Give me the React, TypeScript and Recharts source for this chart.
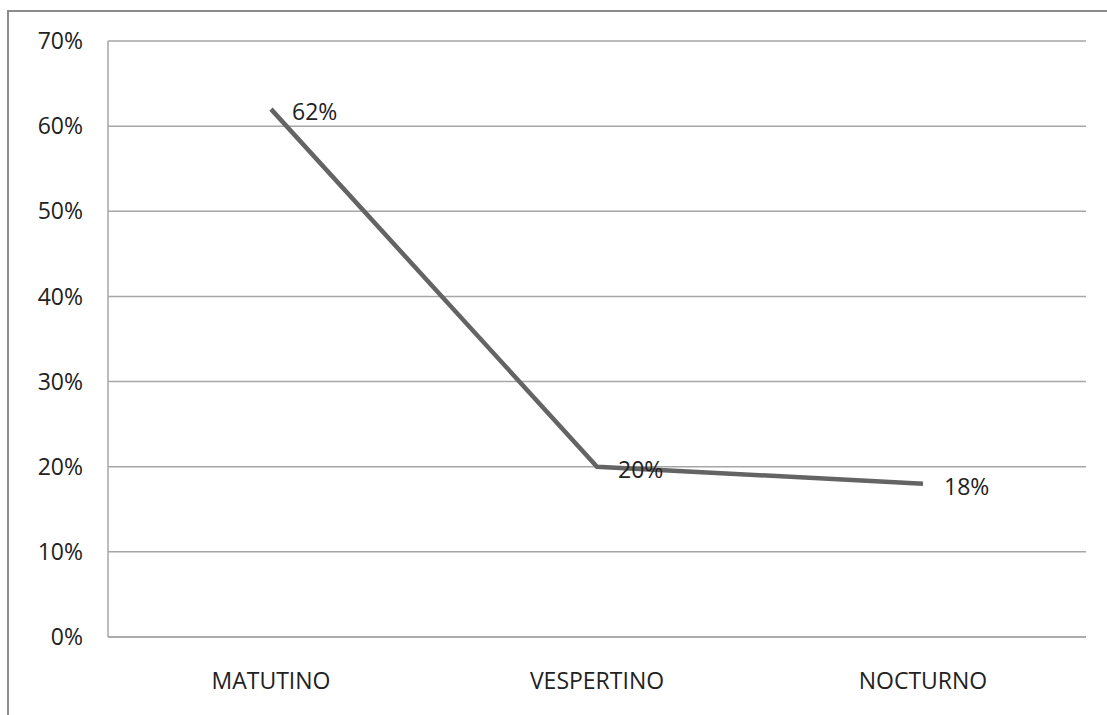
import { LineChart, Line, XAxis, YAxis, CartesianGrid, LabelList } from 'recharts';

const turnos = ['MATUTINO', 'VESPERTINO', 'NOCTURNO'];
const porcentajes = [0.62, 0.2, 0.18];
const yTicks = [0, 0.1, 0.2, 0.3, 0.4, 0.5, 0.6, 0.7];

const data = turnos.map((turno, i) => ({ turno, valor: porcentajes[i] }));

const FONT = '"Open Sans", "Liberation Sans", sans-serif';
const pct = (v: number) => `${Math.round(v * 100)}%`;

// value label sits to the right of each point
const PointLabel = (props: any) => {
  const { x, y, value } = props;
  return (
    <text
      x={x + 21}
      y={y + 2}
      dominantBaseline="central"
      fontFamily={FONT}
      fontSize={23}
      fill="#222"
    >
      {pct(value)}
    </text>
  );
};

export default function App() {
  return (
    <div
      style={{
        position: 'fixed',
        left: 0,
        top: 0,
        width: 1107,
        height: 715,
        overflow: 'hidden',
        background: '#fff',
      }}
    >
      {/* chart frame, its right and bottom edges run past the page */}
      <div
        style={{
          position: 'absolute',
          left: 7,
          top: 10,
          width: 1200,
          height: 800,
          border: '2px solid #8c8c8c',
          boxSizing: 'border-box',
        }}
      />
      <div style={{ position: 'absolute', left: 0, top: 0 }}>
        <LineChart
          width={1107}
          height={715}
          data={data}
          margin={{ top: 41, right: 21, bottom: 0, left: 0 }}
        >
          <CartesianGrid vertical={false} stroke="#a6a6a6" strokeWidth={1.5} />
          <XAxis
            dataKey="turno"
            height={78}
            padding={{ left: 163, right: 163 }}
            axisLine={{ stroke: '#a6a6a6', strokeWidth: 1.5 }}
            tickLine={false}
            tickSize={0}
            tickMargin={36}
            interval={0}
            tick={{ fill: '#222', fontSize: 23, fontFamily: FONT }}
          />
          <YAxis
            width={108}
            domain={[0, 0.7]}
            ticks={yTicks}
            tickFormatter={pct}
            axisLine={{ stroke: '#a6a6a6', strokeWidth: 1.5 }}
            tickLine={false}
            tickSize={0}
            tickMargin={25}
            tick={{ fill: '#222', fontSize: 23, fontFamily: FONT }}
          />
          <Line
            type="linear"
            dataKey="valor"
            stroke="#646464"
            strokeWidth={4.5}
            dot={false}
            activeDot={false}
            isAnimationActive={false}
          >
            <LabelList dataKey="valor" content={PointLabel} />
          </Line>
        </LineChart>
      </div>
    </div>
  );
}
